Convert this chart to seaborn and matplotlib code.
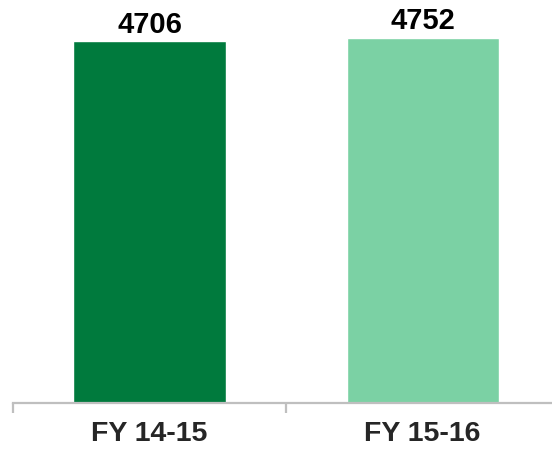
import matplotlib
matplotlib.use("Agg")
import matplotlib.pyplot as plt
import seaborn as sns
import pandas as pd

# Revenue by financial year
years = ["FY 14-15", "FY 15-16"]
values = [4706, 4752]
colors = ["#007A3D", "#7BD1A4"]

sns.set_style("white")
plt.rcParams["font.family"] = ["Liberation Sans", "DejaVu Sans"]

df = pd.DataFrame({"year": years, "value": values})

fig = plt.figure(figsize=(5.52, 4.51), dpi=100)
ax = fig.add_axes([13 / 552, 48 / 451, 1 - 13 / 552, 403 / 451])

sns.barplot(data=df, x="year", y="value", hue="year", palette=colors,
            width=0.557, saturation=1, legend=False, ax=ax)

ax.set_ylim(0, 5240)
ax.set_xlim(-0.5, 1.474)

for i, v in enumerate(values):
    ax.annotate(f"{v}", xy=(i, v), xytext=(0, 5.8), textcoords="offset points",
                ha="center", va="baseline", fontsize=21, fontweight="bold",
                color="black")

for side in ["top", "right", "left"]:
    ax.spines[side].set_visible(False)
ax.spines["bottom"].set_color("#BFBFBF")
ax.spines["bottom"].set_linewidth(1.6)

ax.set_yticks([])
ax.set_xlabel("")
ax.set_ylabel("")
ax.set_xticks([0, 1])
ax.set_xticklabels(years, fontsize=20.5, fontweight="bold")
ax.tick_params(axis="x", which="major", length=0, pad=13, bottom=True)
ax.set_xticks([-0.5, 0.5], minor=True)
ax.tick_params(axis="x", which="minor", length=7, width=1.6, color="#BFBFBF",
               direction="out", bottom=True)

fig.savefig("out.png", dpi=100)
